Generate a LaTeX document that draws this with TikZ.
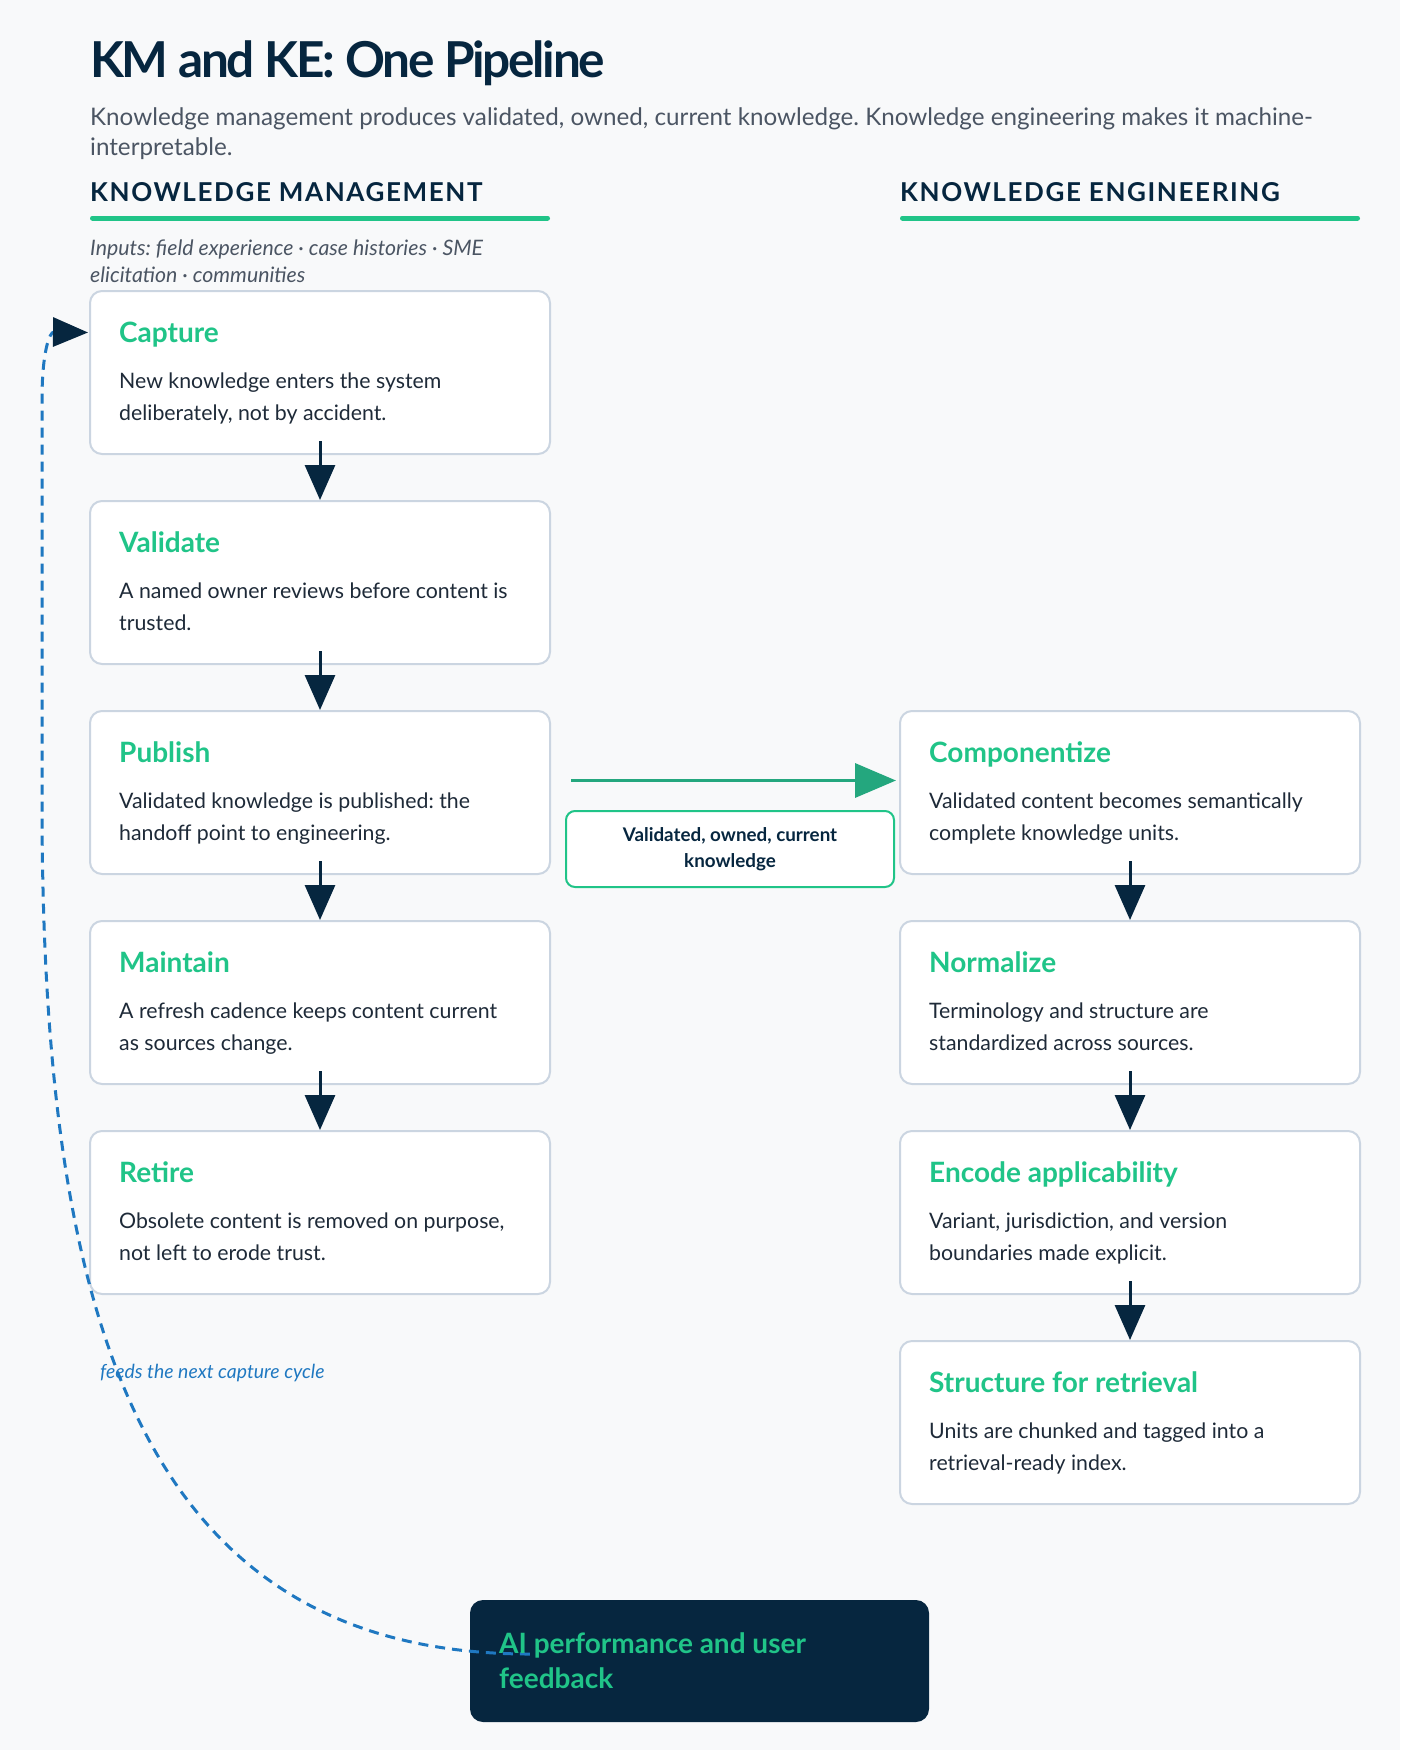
\documentclass[tikz,border=0pt]{standalone}
\usepackage{fontspec}
\setmainfont{Lato}
\usetikzlibrary{arrows.meta,calc}
\frenchspacing
\definecolor{bgc}{HTML}{F8F9FA}
\definecolor{navy}{HTML}{06263F}
\definecolor{kgreen}{HTML}{20C488}
\definecolor{agreen}{HTML}{24A77E}
\definecolor{bord}{HTML}{CBD5E1}
\definecolor{bodyc}{HTML}{1E2A38}
\definecolor{subc}{HTML}{4B5563}
\definecolor{fblue}{HTML}{1F78C1}
\tikzset{
  card/.style={draw=bord, line width=2pt, fill=white, rounded corners=12pt,
    minimum width=460pt, minimum height=163pt, inner sep=0pt},
  cardtitle/.style={anchor=base west, inner sep=0pt, text=kgreen,
    font=\fontsize{28}{32}\selectfont\bfseries},
  cardbody/.style={anchor=base west, inner sep=0pt, text=bodyc,
    font=\fontsize{21.3}{32}\selectfont},
  flow/.style={draw=navy, line width=3pt, -{Triangle[length=35pt,width=30pt]}},
  sechead/.style={anchor=base west, inner sep=0pt, text=navy,
    font=\fontsize{26}{30}\selectfont\bfseries\addfontfeature{LetterSpace=6.2}},
  secline/.style={draw=kgreen, line width=5pt, line cap=round},
}
\begin{document}
\begin{tikzpicture}[x=1pt,y=-1pt]
\fill[bgc] (0,0) rectangle (1400,1750);
\useasboundingbox (0,0) rectangle (1400,1750);

% header
\node[anchor=base west, inner sep=0pt, text=navy, font=\fontsize{49.5}{56}\selectfont\bfseries\addfontfeature{LetterSpace=-4.6}] (title) at (90,78) {KM and KE: One Pipeline};
\node[anchor=base west, inner sep=0pt, text=subc, font=\fontsize{24.2}{31}\selectfont] (sub) at (90,125)
  {\parbox[t]{1300pt}{Knowledge management produces validated, owned, current knowledge. Knowledge engineering makes it machine-\\interpretable.}};

\node[sechead] (kmh) at (90,201) {KNOWLEDGE MANAGEMENT};
\draw[secline] (92.5,218) -- (547.5,218);
\node[sechead] (keh) at (900,201) {KNOWLEDGE ENGINEERING};
\draw[secline] (902.5,218) -- (1357.5,218);

\node[anchor=base west, inner sep=0pt, text=subc, font=\fontsize{21.3}{27}\selectfont\itshape] (inputs) at (90,255)
  {\parbox[t]{460pt}{Inputs: field experience · case histories · SME\\elicitation · communities}};

% left column
\node[card] (c1) at (320,372.5) {};
\node[card] (c2) at (320,582.5) {};
\node[card] (c3) at (320,792.5) {};
\node[card] (c4) at (320,1002.5) {};
\node[card] (c5) at (320,1212.5) {};
% right column
\node[card] (k1) at (1130,792.5) {};
\node[card] (k2) at (1130,1002.5) {};
\node[card] (k3) at (1130,1212.5) {};
\node[card] (k4) at (1130,1422.5) {};

\node[cardtitle] (c1t) at ($(c1.north west)+(30,52)$) {Capture};
\node[cardbody] (c1b) at ($(c1.north west)+(30,98)$) {\parbox[t]{420pt}{New knowledge enters the system\\deliberately, not by accident.}};
\node[cardtitle] (c2t) at ($(c2.north west)+(30,52)$) {Validate};
\node[cardbody] (c2b) at ($(c2.north west)+(30,98)$) {\parbox[t]{420pt}{A named owner reviews before content is\\trusted.}};
\node[cardtitle] (c3t) at ($(c3.north west)+(30,52)$) {Publish};
\node[cardbody] (c3b) at ($(c3.north west)+(30,98)$) {\parbox[t]{420pt}{Validated knowledge is published: the\\handoff point to engineering.}};
\node[cardtitle] (c4t) at ($(c4.north west)+(30,52)$) {Maintain};
\node[cardbody] (c4b) at ($(c4.north west)+(30,98)$) {\parbox[t]{420pt}{A refresh cadence keeps content current\\as sources change.}};
\node[cardtitle] (c5t) at ($(c5.north west)+(30,52)$) {Retire};
\node[cardbody] (c5b) at ($(c5.north west)+(30,98)$) {\parbox[t]{420pt}{Obsolete content is removed on purpose,\\not left to erode trust.}};

\node[cardtitle] (k1t) at ($(k1.north west)+(30,52)$) {Componentize};
\node[cardbody] (k1b) at ($(k1.north west)+(30,98)$) {\parbox[t]{420pt}{Validated content becomes semantically\\complete knowledge units.}};
\node[cardtitle] (k2t) at ($(k2.north west)+(30,52)$) {Normalize};
\node[cardbody] (k2b) at ($(k2.north west)+(30,98)$) {\parbox[t]{420pt}{Terminology and structure are\\standardized across sources.}};
\node[cardtitle] (k3t) at ($(k3.north west)+(30,52)$) {Encode applicability};
\node[cardbody] (k3b) at ($(k3.north west)+(30,98)$) {\parbox[t]{420pt}{Variant, jurisdiction, and version\\boundaries made explicit.}};
\node[cardtitle] (k4t) at ($(k4.north west)+(30,52)$) {Structure for retrieval};
\node[cardbody] (k4b) at ($(k4.north west)+(30,98)$) {\parbox[t]{420pt}{Units are chunked and tagged into a\\retrieval-ready index.}};

% flows
\draw[flow] ($(c1.south)+(0,-14)$) -- (c2.north);
\draw[flow] ($(c2.south)+(0,-14)$) -- (c3.north);
\draw[flow] ($(c3.south)+(0,-14)$) -- (c4.north);
\draw[flow] ($(c4.south)+(0,-14)$) -- (c5.north);
\draw[flow] ($(k1.south)+(0,-14)$) -- (k2.north);
\draw[flow] ($(k2.south)+(0,-14)$) -- (k3.north);
\draw[flow] ($(k3.south)+(0,-14)$) -- (k4.north);

% handoff
\draw[draw=agreen, line width=3.5pt, -{Triangle[length=41pt,width=34pt]}] ($(c3.east)+(20,-12)$) -- ($(k1.west)+(-3,-12)$);
\node[draw=kgreen, line width=2pt, fill=white, rounded corners=9pt, minimum width=328pt, minimum height=76pt,
  align=center, text=navy, font=\fontsize{18.8}{26}\selectfont\bfseries, inner sep=0pt] (lab) at (730,849)
  {Validated, owned, current\\knowledge};

% feedback
\node[fill=navy, rounded corners=13pt, minimum width=459pt, minimum height=122pt, inner sep=0pt] (fbbox) at (699.5,1661) {};
\draw[draw=fblue, line width=3pt, dash pattern=on 10pt off 7pt, -{Triangle[length=35pt,width=29pt,color=navy]}]
  ($(fbbox.west)+(60,-7)$) .. controls (130,1654) and (42,1300) .. (42,800) -- (42,400)
  .. controls (42,350) and (50,332) .. ($(c1.west)+(-1,-40)$);
\node[anchor=base west, inner sep=0pt, text=kgreen, font=\fontsize{28}{35}\selectfont\bfseries] (fb) at (499,1653)
  {\parbox[t]{420pt}{AI performance and user\\feedback}};
\node[anchor=base west, inner sep=0pt, text=fblue, font=\fontsize{19.4}{24}\selectfont\itshape] (feeds) at (100,1378) {feeds the next capture cycle};
\end{tikzpicture}
\end{document}
